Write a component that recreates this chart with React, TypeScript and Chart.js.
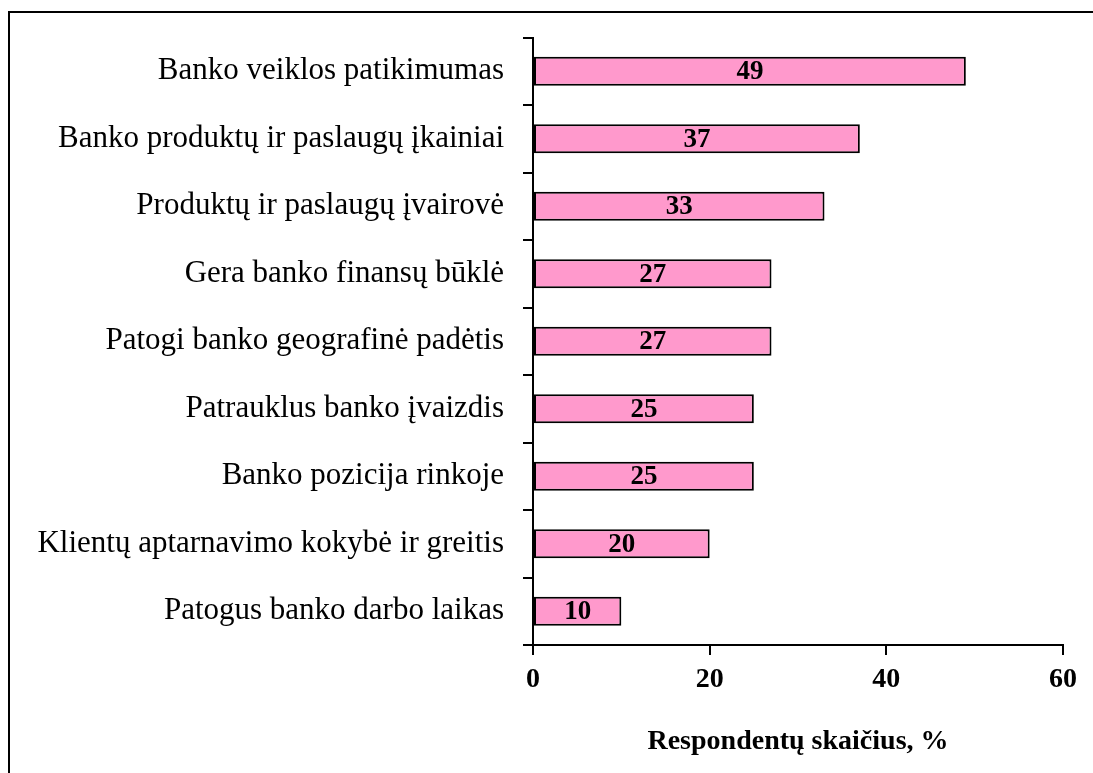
import React, { useEffect, useRef } from "react";
import { Chart, registerables } from "chart.js";

Chart.register(...registerables);

const categories = [
  "Banko veiklos patikimumas",
  "Banko produktų ir paslaugų įkainiai",
  "Produktų ir paslaugų įvairovė",
  "Gera banko finansų būklė",
  "Patogi banko geografinė padėtis",
  "Patrauklus banko įvaizdis",
  "Banko pozicija rinkoje",
  "Klientų aptarnavimo kokybė ir greitis",
  "Patogus banko darbo laikas",
];
const values = [49, 37, 33, 27, 27, 25, 25, 20, 10];
const xTicks = [0, 20, 40, 60];
const xTitle = "Respondentų skaičius, %";

const FONT = "'Liberation Serif', 'Times New Roman', serif";

const labelPlugin = {
  id: "barLabels",
  afterDatasetsDraw(chart: any) {
    const ctx = chart.ctx;
    const meta = chart.getDatasetMeta(0);
    ctx.save();
    ctx.font = `bold 27px ${FONT}`;
    ctx.fillStyle = "#000";
    ctx.textAlign = "center";
    ctx.textBaseline = "middle";
    meta.data.forEach((bar: any, i: number) => {
      const cx = (bar.x + bar.base) / 2;
      ctx.fillText(String(chart.data.datasets[0].data[i]), cx, bar.y + 1);
    });
    ctx.restore();
  },
};

const framePlugin = {
  id: "frame",
  beforeDraw(chart: any) {
    const ctx = chart.ctx;
    ctx.save();
    ctx.fillStyle = "#fff";
    ctx.fillRect(0, 0, chart.width, chart.height);
    ctx.fillStyle = "#000";
    ctx.fillRect(8, 11, 2, chart.height);
    ctx.fillRect(8, 11, chart.width, 2);
    ctx.restore();
  },
};

export default function App() {
  const ref = useRef<HTMLCanvasElement>(null);
  useEffect(() => {
    if (!ref.current) return;
    const chart = new Chart(ref.current, {
      type: "bar",
      data: {
        labels: categories,
        datasets: [
          {
            data: values,
            backgroundColor: "#FF99CC",
            borderColor: "#000",
            borderWidth: 2,
            borderSkipped: false,
            barPercentage: 0.43,
            categoryPercentage: 1,
          },
        ],
      },
      options: {
        indexAxis: "y",
        animation: false,
        responsive: false,
        devicePixelRatio: 1,
        layout: { padding: { top: 34, right: 30, left: 0, bottom: 0 } },
        plugins: {
          legend: { display: false },
          tooltip: { enabled: false },
        },
        scales: {
          y: {
            afterFit(scale: any) {
              scale.width = 533;
            },
            grid: {
              offset: true,
              drawOnChartArea: false,
              tickLength: 10,
              color: "#000",
              lineWidth: 2,
            },
            border: { display: true, color: "#000", width: 2 },
            ticks: {
              padding: 19,
              color: "#000",
              font: { family: FONT, size: 31 },
            },
          },
          x: {
            min: 0,
            max: 60,
            afterFit(scale: any) {
              scale.height = 773 - 645;
            },
            afterBuildTicks(scale: any) {
              scale.ticks = xTicks.map((v) => ({ value: v }));
            },
            grid: {
              drawOnChartArea: false,
              tickLength: 10,
              color: "#000",
              lineWidth: 2,
            },
            border: { display: true, color: "#000", width: 2 },
            ticks: {
              padding: 8,
              color: "#000",
              font: { family: FONT, size: 28, weight: "bold" },
            },
            title: {
              display: true,
              text: xTitle,
              color: "#000",
              padding: { top: 13, bottom: 14 },
              font: { family: FONT, size: 28, weight: "bold" },
            },
          },
        },
      },
      plugins: [framePlugin, labelPlugin],
    });
    return () => chart.destroy();
  }, []);
  return (
    <div
      style={{
        position: "absolute",
        left: 0,
        top: 0,
        width: 1093,
        height: 773,
        overflow: "hidden",
        background: "#fff",
      }}
    >
      <canvas ref={ref} width={1093} height={773} style={{ display: "block" }} />
    </div>
  );
}
